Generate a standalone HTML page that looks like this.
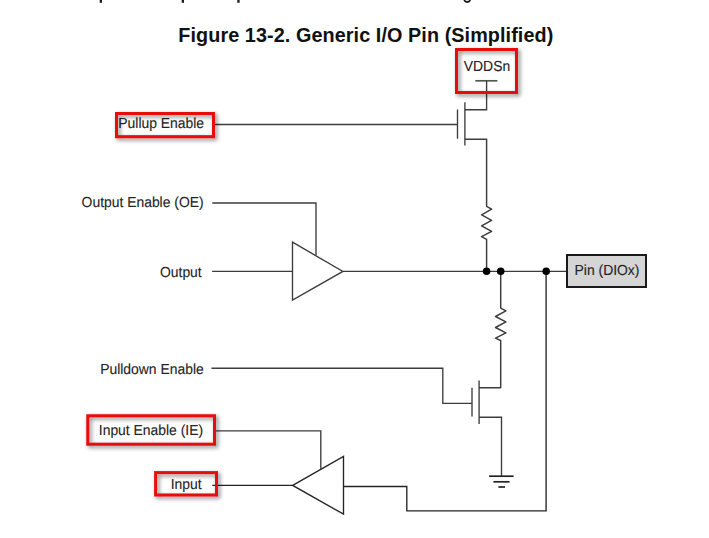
<!DOCTYPE html>
<html>
<head>
<meta charset="utf-8">
<style>
html,body{margin:0;padding:0;background:#fff;width:709px;height:538px;overflow:hidden;}
svg{position:absolute;left:0;top:0;display:block;}
text{font-family:"Liberation Sans",sans-serif;}
.lbl{font-size:14.6px;text-rendering:geometricPrecision;fill:#232323;stroke:#232323;stroke-width:0.12;}
.ln{fill:none;stroke:#3c3c3c;stroke-width:1.35;stroke-linecap:butt;stroke-linejoin:miter;}
.dk{stroke:#242424;}
.rz{stroke-linejoin:round;stroke-width:1.45;}
.gnd{fill:none;stroke:#222;stroke-width:1.7;}
.red{fill:none;stroke:#e80808;stroke-width:3;}
</style>
</head>
<body>
<svg width="709" height="538" viewBox="0 0 709 538">
<defs>
<filter id="sh" x="-20%" y="-30%" width="140%" height="160%">
<feGaussianBlur in="SourceAlpha" stdDeviation="2" result="b"/>
<feOffset in="b" dx="2" dy="2" result="o"/>
<feComponentTransfer in="o" result="s"><feFuncA type="linear" slope="0.5"/></feComponentTransfer>
<feMerge><feMergeNode in="s"/><feMergeNode in="SourceGraphic"/></feMerge>
</filter>
</defs>

<!-- previous line descenders -->
<rect x="99.7" y="0" width="2.3" height="2.8" fill="#1a1a22"/>
<rect x="181.7" y="0" width="2.3" height="2.8" fill="#1a1a22"/>
<rect x="237.3" y="0" width="2.3" height="2.8" fill="#1a1a22"/>
<path d="M464.2 0 Q465 2 467.2 2 Q469.5 2 470.2 0" fill="none" stroke="#1a1a22" stroke-width="1.8"/>

<!-- title -->
<text x="178.3" y="42" font-size="19.8" font-weight="bold" fill="#111" textLength="375" lengthAdjust="spacing">Figure 13-2. Generic I/O Pin (Simplified)</text>

<!-- labels -->
<text class="lbl" transform="translate(118.3 128) scale(0.952 1)">Pullup Enable</text>
<text class="lbl" transform="translate(81.6 207) scale(0.952 1)">Output Enable (OE)</text>
<text class="lbl" transform="translate(160 276.5) scale(0.952 1)">Output</text>
<text class="lbl" transform="translate(100.2 374) scale(0.952 1)">Pulldown Enable</text>
<text class="lbl" transform="translate(98.8 435) scale(0.952 1)">Input Enable (IE)</text>
<text class="lbl" transform="translate(170.7 489) scale(0.952 1)">Input</text>
<text class="lbl" transform="translate(463.8 71) scale(0.952 1)">VDDSn</text>

<!-- top transistor -->
<path class="ln" d="M475.3 80.8 H497.4" style="stroke:#555;stroke-width:1.7"/>
<path class="ln" d="M486.6 80.8 V109.7 H464.9"/>
<path class="ln" d="M464.9 102.3 V145.4"/>
<path class="ln" d="M457.5 109.5 V138.7"/>
<path class="ln" d="M215 124.5 H457.5"/>
<path class="ln rz" d="M464.9 139.2 H486.6 V206.3 L491.6 209.2 L481.6 214.9 L491.6 220.3 L481.6 225.8 L491.6 231.4 L481.6 236.7 L486.6 239.4 V271.3"/>

<!-- output buffer -->
<path class="ln" d="M212.3 203 H316 V255.2"/>
<path class="ln" d="M212.1 271.4 H292.5"/>
<path class="ln" d="M292.5 242.2 L342.9 271.4 L292.5 300 Z"/>
<path class="ln" d="M342.9 271.3 H567"/>

<!-- bottom leg -->
<path class="ln rz" d="M500.7 271.3 V308.1 L505.9 310.9 L495.5 316.5 L505.9 321.8 L495.5 327.5 L505.9 332.9 L495.5 338.2 L500.7 340.5 V387.8 H479.1"/>
<path class="ln" d="M479.1 380.5 V424"/>
<path class="ln" d="M472 387.7 V416.6"/>
<path class="ln" d="M211.5 368.2 H442.8 V403.3 H472"/>
<path class="ln" d="M479.1 417.2 H501.5 V476.2"/>
<!-- ground -->
<path class="gnd" d="M489.1 476.2 H513.6"/>
<path class="gnd" d="M493.4 481.8 H509.5"/>
<path class="gnd" d="M498.4 487 H505"/>

<!-- input buffer -->
<path class="ln" d="M216 430.8 H320.8 V468.7"/>
<path class="ln dk" d="M212.3 485.3 H292.7"/>
<path class="ln dk" d="M292.7 485.4 L343.5 456.3 V514.2 Z"/>
<path class="ln dk" d="M343.5 486.5 H406.8 V510.8 H546.1 V271.2"/>

<!-- dots -->
<circle cx="486.6" cy="271.2" r="3.8" fill="#000"/>
<circle cx="500.7" cy="271.2" r="3.8" fill="#000"/>
<circle cx="546.2" cy="271.2" r="3.8" fill="#000"/>

<!-- pin box -->
<rect x="567" y="255" width="79" height="32" fill="#d5d5d5" stroke="#1a1a1a" stroke-width="2"/>
<text class="lbl" transform="translate(574.6 274.5) scale(0.952 1)">Pin (DIOx)</text>

<!-- red highlight boxes -->
<g filter="url(#sh)">
<rect class="red" x="116.5" y="113.5" width="97" height="23.2"/>
<rect class="red" x="456.5" y="49.5" width="60" height="43"/>
<rect class="red" x="87.8" y="415.8" width="126.7" height="28.4"/>
<rect class="red" x="155.6" y="472.6" width="60.9" height="22.4"/>
</g>
</svg>
</body>
</html>
